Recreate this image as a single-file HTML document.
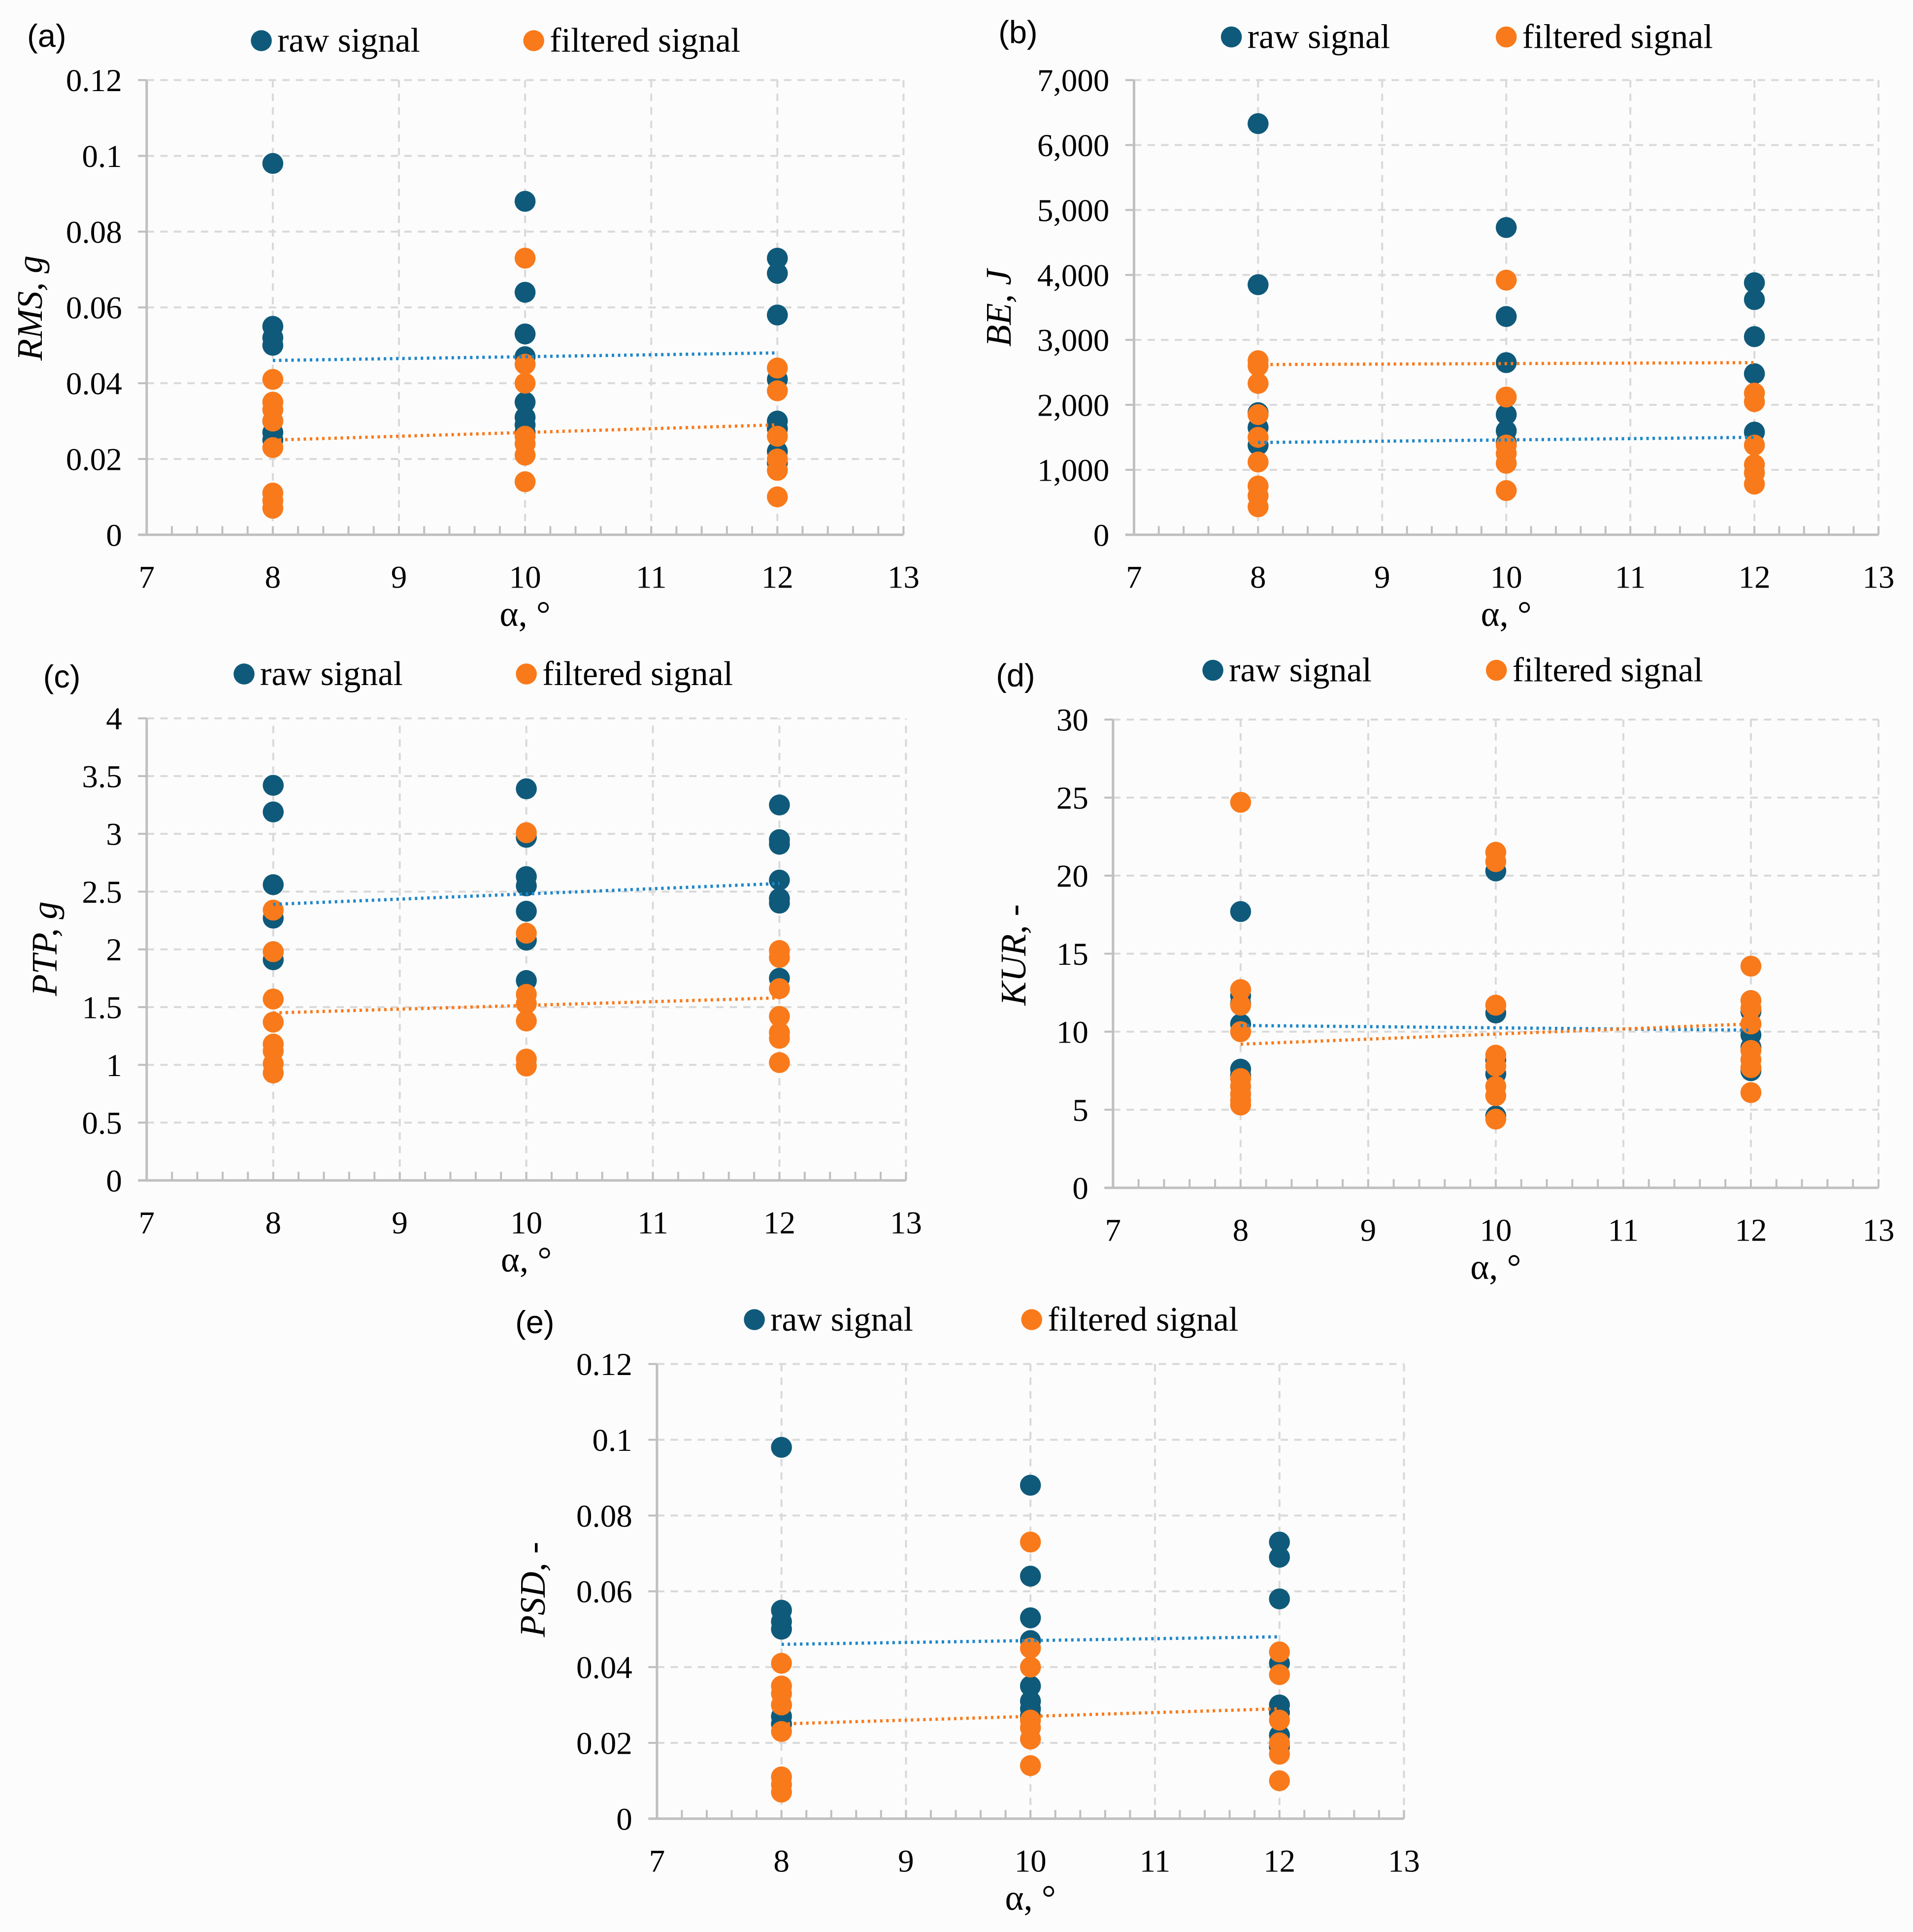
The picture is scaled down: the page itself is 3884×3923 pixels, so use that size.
<!DOCTYPE html>
<html><head><meta charset="utf-8"><style>
html,body{margin:0;padding:0;background:#fcfcfc}
svg{display:block;font-family:"Liberation Serif","DejaVu Serif",serif}
svg text{font-family:"Liberation Serif","DejaVu Serif",serif;fill:#000}
svg text.sans{font-family:"Liberation Sans",sans-serif}
</style></head><body>
<svg id="fig" width="3884" height="3923" viewBox="0 0 1552 1568" preserveAspectRatio="none" xmlns="http://www.w3.org/2000/svg" font-family="Liberation Serif, serif">
<rect width="1552" height="1568" fill="#fcfcfc"/>
</svg>
<script>
// Panel (a) RMS
const rmsRaw8=[0.098,0.055,0.052,0.050,0.030,0.027,0.025];
const rmsFilt8=[0.041,0.035,0.033,0.030,0.023,0.011,0.009,0.007];
const rmsRaw10=[0.088,0.064,0.053,0.047,0.035,0.031,0.029,0.027];
const rmsFilt10=[0.073,0.045,0.040,0.026,0.024,0.021,0.014];
const rmsRaw12=[0.073,0.069,0.058,0.041,0.030,0.028,0.022,0.019];
const rmsFilt12=[0.044,0.038,0.026,0.020,0.017,0.010];
const rmsTrendRaw=[0.046,0.048];
const rmsTrendFilt=[0.025,0.029];
const rmsTicks=["0","0.02","0.04","0.06","0.08","0.1","0.12"];
// Panel (b) BE
const beRaw8=[6330,3850,1880,1650,1380];
const beFilt8=[2680,2600,2330,1850,1500,1120,750,600,430];
const beRaw10=[4730,3360,2650,1850,1600,1420];
const beFilt10=[3920,2120,1380,1250,1100,680];
const beRaw12=[3880,3620,3050,2480,1580];
const beFilt12=[2180,2050,1380,1080,950,780];
const beTrendRaw=[1420,1500];
const beTrendFilt=[2620,2650];
const beTicks=["0","1,000","2,000","3,000","4,000","5,000","6,000","7,000"];
// Panel (c) PTP
const ptpRaw8=[3.42,3.19,2.56,2.27,1.98,1.91];
const ptpFilt8=[2.34,1.98,1.57,1.37,1.18,1.12,1.01,0.93];
const ptpRaw10=[3.39,2.97,2.63,2.55,2.33,2.08,1.73];
const ptpFilt10=[3.01,2.14,1.61,1.53,1.38,1.05,0.99];
const ptpRaw12=[3.25,2.95,2.91,2.60,2.44,2.40,1.75];
const ptpFilt12=[1.99,1.93,1.66,1.42,1.28,1.23,1.02];
const ptpTrendRaw=[2.39,2.57];
const ptpTrendFilt=[1.45,1.58];
const ptpTicks=["0","0.5","1","1.5","2","2.5","3","3.5","4"];
// Panel (d) KUR
const kurRaw8=[17.7,12.3,11.8,10.5,7.6,7.2];
const kurFilt8=[24.7,12.7,11.7,10.0,7.0,6.5,6.0,5.6,5.3];
const kurRaw10=[20.3,11.2,8.2,7.3,4.6];
const kurFilt10=[21.5,20.9,11.7,8.5,7.8,6.5,5.9,4.4];
const kurRaw12=[11.3,10.5,9.8,9.0,7.5];
const kurFilt12=[14.2,12.0,11.5,10.5,8.8,8.2,7.7,6.1];
const kurTrendRaw=[10.4,10.1];
const kurTrendFilt=[9.2,10.5];
const kurTicks=["0","5","10","15","20","25","30"];
// Panel (e) PSD
const psdRaw8=[0.098,0.055,0.052,0.050,0.030,0.027,0.025];
const psdFilt8=[0.041,0.035,0.033,0.030,0.023,0.011,0.009,0.007];
const psdRaw10=[0.088,0.064,0.053,0.047,0.035,0.031,0.029,0.027];
const psdFilt10=[0.073,0.045,0.040,0.026,0.024,0.021,0.014];
const psdRaw12=[0.073,0.069,0.058,0.041,0.030,0.028,0.022,0.019];
const psdFilt12=[0.044,0.038,0.026,0.020,0.017,0.010];
const psdTrendRaw=[0.046,0.048];
const psdTrendFilt=[0.025,0.029];
const psdTicks=["0","0.02","0.04","0.06","0.08","0.1","0.12"];
const xTicks=[7,8,9,10,11,12,13];
const alphas=[8,10,12];
const trendX=[8,12];

const NS="http://www.w3.org/2000/svg";
const svg=document.getElementById('fig');
const SERIF="Liberation Serif, DejaVu Serif, serif";
function mk(tag,attrs,parent){const e=document.createElementNS(NS,tag);for(const k in attrs)e.setAttribute(k,attrs[k]);(parent||svg).appendChild(e);return e;}
const RAW="#0f5a7a",FILT="#f97a1b";

function panel(cfg){
  const g=mk('g',{});
  
  
  const X=v=>cfg.x0+(v-7)/6*(cfg.x1-cfg.x0);
  const Y=v=>cfg.y0-v/cfg.ymax*(cfg.y0-cfg.y1);
  cfg.ticks.forEach((t,i)=>{
    const v=i*cfg.ystep;const y=Y(v);
    if(i>0){const l=mk('line',{x1:cfg.x0,x2:cfg.x1,y1:y,y2:y,stroke:'#d9d9d9','stroke-width':1.6,'stroke-dasharray':'6,5'},g);
      }
    mk('line',{x1:cfg.x0-7,x2:cfg.x0,y1:y,y2:y,stroke:'#bfbfbf','stroke-width':1.6},g);
    const tx=mk('text',{x:cfg.x0-20,y:y+9,'text-anchor':'end','font-size':26,'font-family':SERIF},g);
    tx.textContent=t;
    
    
  });
  xTicks.forEach(v=>{
    const x=X(v);
    if(v>7){const l=mk('line',{x1:x,x2:x,y1:cfg.y0,y2:cfg.y1,stroke:'#d9d9d9','stroke-width':1.6,'stroke-dasharray':'6,5'},g);
      }
    const tx=mk('text',{x:x,y:cfg.y0+43,'text-anchor':'middle','font-size':26,'font-family':SERIF},g);
    tx.textContent=v;
    
    
  });
  for(let v=7.2;v<13;v+=0.2){const x=X(v);mk('line',{x1:x,x2:x,y1:cfg.y0-7,y2:cfg.y0,stroke:'#bfbfbf','stroke-width':1.6},g);}
  const ax=mk('line',{x1:cfg.x0-7,x2:cfg.x1,y1:cfg.y0,y2:cfg.y0,stroke:'#bfbfbf','stroke-width':2},g);
  
  const ay=mk('line',{x1:cfg.x0,x2:cfg.x0,y1:cfg.y0,y2:cfg.y1,stroke:'#bfbfbf','stroke-width':2},g);
  
  [[cfg.raw,RAW,'raw'],[cfg.filt,FILT,'filtered']].forEach(([sets,col,nm])=>{
    sets.forEach((arr,i)=>arr.forEach(v=>{
      const c=mk('circle',{cx:X(alphas[i]),cy:Y(v),r:8.5,fill:col},g);
      
      
    }));
  });
  [[cfg.tRaw,'#1f87c9','raw'],[cfg.tFilt,'#f97a1b','filtered']].forEach(([t,col,nm])=>{
    const l=mk('line',{x1:X(trendX[0]),x2:X(trendX[1]),y1:Y(t[0]),y2:Y(t[1]),stroke:col,'stroke-width':2.6,'stroke-dasharray':'2,3'},g);
    
    
  });
  const pl=mk('text',{x:cfg.lab[0],y:cfg.lab[1],'font-size':26,'font-family':'Liberation Sans, sans-serif','class':'sans'},g);
  pl.textContent='('+cfg.id+')';
  
  const yt=mk('text',{x:0,y:0,'font-size':29,'font-style':'italic','text-anchor':'middle','font-family':SERIF,transform:`translate(${cfg.yt[0]},${cfg.yt[1]}) rotate(-90)`},g);
  yt.textContent=cfg.ytitle;
  
  const xt=mk('text',{x:(cfg.x0+cfg.x1)/2,y:cfg.y0+74,'font-size':29,'text-anchor':'middle','font-family':SERIF},g);
  xt.textContent='α, °';
  
  [[cfg.leg[0],RAW,'raw signal','legend-raw'],[cfg.leg[1],FILT,'filtered signal','legend-filtered']].forEach(([x,col,txt,nm])=>{
    const lg=mk('g',{},g);
    
    mk('circle',{cx:x,cy:cfg.leg[2],r:8.5,fill:col},lg);
    const t=mk('text',{x:x+13,y:cfg.leg[2]+9,'font-size':28,'font-family':SERIF},lg);t.textContent=txt;
  });
}
panel({id:'a',x0:119,x1:733,y0:434,y1:65,ymax:0.12,ystep:0.02,ticks:rmsTicks,raw:[rmsRaw8,rmsRaw10,rmsRaw12],filt:[rmsFilt8,rmsFilt10,rmsFilt12],tRaw:rmsTrendRaw,tFilt:rmsTrendFilt,lab:[22,38],yt:[34,250],ytitle:'RMS, g',leg:[212,433,33]});
panel({id:'b',x0:920,x1:1524,y0:434,y1:65,ymax:7000,ystep:1000,ticks:beTicks,raw:[beRaw8,beRaw10,beRaw12],filt:[beFilt8,beFilt10,beFilt12],tRaw:beTrendRaw,tFilt:beTrendFilt,lab:[810,35],yt:[820,250],ytitle:'BE, J',leg:[999,1222,30]});
panel({id:'c',x0:119,x1:735,y0:958,y1:583,ymax:4,ystep:0.5,ticks:ptpTicks,raw:[ptpRaw8,ptpRaw10,ptpRaw12],filt:[ptpFilt8,ptpFilt10,ptpFilt12],tRaw:ptpTrendRaw,tFilt:ptpTrendFilt,lab:[35,558],yt:[46,770],ytitle:'PTP, g',leg:[198,427,547]});
panel({id:'d',x0:903,x1:1524,y0:964,y1:584,ymax:30,ystep:5,ticks:kurTicks,raw:[kurRaw8,kurRaw10,kurRaw12],filt:[kurFilt8,kurFilt10,kurFilt12],tRaw:kurTrendRaw,tFilt:kurTrendFilt,lab:[808,557],yt:[832,775],ytitle:'KUR, -',leg:[984,1214,544]});
panel({id:'e',x0:533,x1:1139,y0:1476,y1:1107,ymax:0.12,ystep:0.02,ticks:psdTicks,raw:[psdRaw8,psdRaw10,psdRaw12],filt:[psdFilt8,psdFilt10,psdFilt12],tRaw:psdTrendRaw,tFilt:psdTrendFilt,lab:[418,1082],yt:[442,1290],ytitle:'PSD, -',leg:[612,837,1071]});
</script>
</body></html>
